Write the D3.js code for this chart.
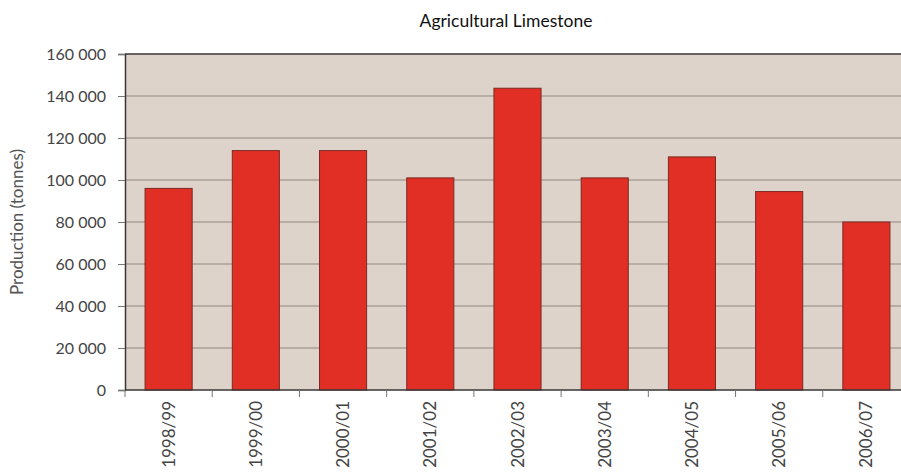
<!DOCTYPE html>
<html>
<head>
<meta charset="utf-8">
<script src="https://cdn.jsdelivr.net/npm/d3@7"></script>
<style>
  html, body { margin: 0; padding: 0; background: #fff; }
  svg { display: block; }
</style>
</head>
<body>
<svg id="chart" width="901" height="472"></svg>
<script>
// Agricultural limestone production by financial year
const years = ["1998/99", "1999/00", "2000/01", "2001/02", "2002/03", "2003/04", "2004/05", "2005/06", "2006/07"];
const production = [96000, 114000, 114000, 101000, 143700, 101000, 111000, 94500, 80000];
const yTicks = [0, 20000, 40000, 60000, 80000, 100000, 120000, 140000, 160000];

const svg = d3.select("#chart");
const margin = { left: 125, top: 54, bottom: 82 };
const plotRight = 910;
const H = 472;
const fontFam = "Lato, 'Open Sans', sans-serif";

const x = d3.scaleBand().domain(years).range([margin.left, plotRight]).paddingInner(0.46).paddingOuter(0.23);
const y = d3.scaleLinear().domain([0, 160000]).range([H - margin.bottom, margin.top]);

// plot background
svg.append("rect")
  .attr("x", margin.left).attr("y", margin.top)
  .attr("width", plotRight - margin.left).attr("height", y(0) - margin.top)
  .attr("fill", "#ddd3ca");

// horizontal gridlines
svg.append("g").selectAll("line").data(yTicks.filter(d => d > 0 && d < 160000)).join("line")
  .attr("x1", margin.left).attr("x2", plotRight)
  .attr("y1", d => y(d)).attr("y2", d => y(d))
  .attr("stroke", "#aba098").attr("stroke-width", 1.5);

// top frame line
svg.append("line")
  .attr("x1", margin.left).attr("x2", plotRight)
  .attr("y1", y(160000)).attr("y2", y(160000))
  .attr("stroke", "#3a3636").attr("stroke-width", 1.5);

// bars
svg.append("g").selectAll("rect").data(years).join("rect")
  .attr("x", d => x(d)).attr("width", x.bandwidth())
  .attr("y", (d, i) => y(production[i]))
  .attr("height", (d, i) => y(0) - y(production[i]))
  .attr("fill", "#e12f26").attr("stroke", "#7a2a22").attr("stroke-width", 1);

// y axis
const fmt = v => d3.format(",")(v).replace(/,/g, " ");
const yAxis = svg.append("g").attr("transform", `translate(${margin.left},0)`)
  .call(d3.axisLeft(y).tickValues(yTicks).tickFormat(fmt).tickSize(7).tickPadding(12));
yAxis.select(".domain").attr("stroke", "#3a3636").attr("stroke-width", 1.5);
yAxis.selectAll(".tick line").attr("stroke", "#777");
yAxis.selectAll(".tick text").attr("fill", "#444").style("font-family", fontFam).style("font-size", "16px");

// x axis line, category boundary ticks and rotated labels
const band = (plotRight - margin.left) / years.length;
svg.append("line")
  .attr("x1", margin.left).attr("x2", plotRight)
  .attr("y1", y(0)).attr("y2", y(0))
  .attr("stroke", "#3a3636").attr("stroke-width", 1.5);
svg.append("g").selectAll("line").data(d3.range(years.length + 1)).join("line")
  .attr("x1", i => margin.left + i * band).attr("x2", i => margin.left + i * band)
  .attr("y1", y(0)).attr("y2", y(0) + 7)
  .attr("stroke", "#777").attr("stroke-width", 1);
svg.append("g").selectAll("text").data(years).join("text")
  .attr("transform", d => `translate(${x(d) + x.bandwidth() / 2 + 6},${y(0) + 11}) rotate(-90)`)
  .attr("text-anchor", "end")
  .attr("fill", "#444")
  .style("font-family", fontFam).style("font-size", "17px")
  .text(d => d);

// y axis title
svg.append("text")
  .attr("transform", `translate(23,${(margin.top + y(0)) / 2}) rotate(-90)`)
  .attr("text-anchor", "middle")
  .attr("fill", "#555")
  .style("font-family", fontFam).style("font-size", "17px")
  .text("Production (tonnes)");

// chart title
svg.append("text")
  .attr("x", 506).attr("y", 27)
  .attr("text-anchor", "middle")
  .attr("fill", "#111")
  .style("font-family", fontFam).style("font-size", "17.5px")
  .text("Agricultural Limestone");
</script>
</body>
</html>
